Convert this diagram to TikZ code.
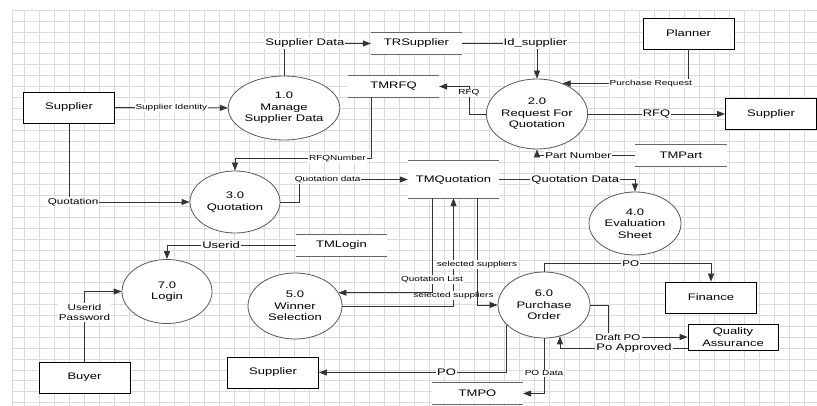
\documentclass[tikz,border=0pt]{standalone}
\usepackage{fontspec}
\setmainfont{Liberation Sans}[FakeStretch=1.37]
\usetikzlibrary{arrows.meta, shapes.geometric, positioning}

\newcommand{\fsbig}{\fontsize{9.5}{11.5}\selectfont}
\newcommand{\fsmid}{\fontsize{8.5}{10}\selectfont}
\newcommand{\fssmall}{\fontsize{7.3}{8.5}\selectfont}

\tikzset{
  entity/.style={draw, rectangle, fill=white, line width=0.8pt, minimum width=91pt, minimum height=31pt, inner sep=0pt, font=\fsbig},
  process/.style={draw=black!65, ellipse, fill=white, line width=0.8pt, inner sep=0pt, align=center, font=\fsbig},
  store/.style={fill=white, minimum width=91pt, minimum height=21pt, inner sep=0pt, font=\fsbig},
  storeline/.style={draw=black!60, line width=0.8pt},
  flow/.style={draw=black!80, line width=0.8pt, -{Triangle[length=8pt,width=6pt]}},
  lbl/.style={fill=white, inner sep=1pt, font=\fsbig},
  lblm/.style={lbl, font=\fsmid},
  lbls/.style={lbl, font=\fssmall},
  gridline/.style={draw=black!14, line width=0.4pt}
}

\begin{document}
\begin{tikzpicture}[x=1pt, y=-1pt]
    \useasboundingbox (0,0) rectangle (817,406);
    % background grid
    \foreach \x in {11.7,24.3,39.3,...,817}
      \draw[gridline] (\x,10) -- (\x,406);
    \foreach \k in {0,...,36}
      \draw[gridline] (11.7,{10+10.9*\k}) -- (817,{10+10.9*\k});

    % external entities
    \node[entity] (SupA) at (69,107.5) {Supplier};
    \node[entity] (Plan) at (688.5,33.5) {Planner};
    \node[entity] (SupB) at (771,114) {Supplier};
    \node[entity] (Fin) at (711,297.5) {Finance};
    \node[entity, minimum width=90pt, minimum height=26pt, align=center] (QA) at (733,337) {Quality\\Assurance};
    \node[entity] (SupC) at (273,372.5) {Supplier};
    \node[entity] (Buy) at (84.5,377.5) {Buyer};

    % processes
    \node[process, minimum width=98pt, minimum height=64pt] (P1) at (284,108) {1.0\\Manage\\Supplier Data};
    \node[process, minimum width=94pt, minimum height=70pt] (P2) at (537,114) {2.0\\Request For\\Quotation};
    \node[process, minimum width=90pt, minimum height=62pt] (P3) at (235,202) {3.0\\Quotation};
    \node[process, minimum width=92pt, minimum height=63pt] (P4) at (635,223.5) {4.0\\Evaluation\\Sheet};
    \node[process, minimum width=94pt, minimum height=66pt] (P5) at (295,306) {5.0\\Winner\\Selection};
    \node[process, minimum width=92pt, minimum height=66pt] (P6) at (544,305) {6.0\\Purchase\\Order};
    \node[process, minimum width=90pt, minimum height=64pt] (P7) at (167,291.5) {7.0\\Login};

    % data stores
    \node[store] (TRS) at (416.5,43.5) {TRSupplier};
    \node[store] (TMR) at (393.5,86.5) {TMRFQ};
    \node[store, minimum height=37pt] (TMQ) at (453.5,179.5) {TMQuotation};
    \node[store] (TMP) at (681,155.5) {TMPart};
    \node[store] (TML) at (341.5,245.5) {TMLogin};
    \node[store] (TMPO) at (477.5,393.5) {TMPO};
    \foreach \s in {TRS,TMR,TMQ,TMP,TML,TMPO}
      \draw[storeline] (\s.north west) -- (\s.north east) (\s.south west) -- (\s.south east);

    % data flows
    \draw[flow] (SupA) -- node[lbls]{Supplier Identity} (P1);
    \draw[flow] (P1.north) |- node[lbl, pos=0.62]{Supplier Data} (TRS.west);
    \draw[flow] (TRS.east) -| node[lbl, pos=0.49]{Id\_supplier} (P2.north);
    \draw[flow] (Plan.south) |- node[lbls, pos=0.65]{Purchase Request} (P2.50);
    \draw[flow] (P2) -- node[lbl]{RFQ} (SupB);
    \draw[flow] (P2.west) -- ++(-17,0) |- node[lbls, pos=0.38]{RFQ} (TMR.east);
    \draw[flow] ([xshift=-22pt]TMR.south) -- ++(0,61) -| node[lbls, pos=0.125]{RFQNumber} (P3.north);
    \draw[flow] (SupA.south) |- node[lblm, pos=0.517]{Quotation} (P3.west);
    \draw[flow] (P3.east) -- ++(19,0) |- node[lbls, pos=0.63]{Quotation data} (TMQ.west);
    \draw[flow] (TMQ.east) -| node[lbl, pos=0.28]{Quotation Data} (P4.north);
    \draw[flow] (TMP.west) -| node[lblm, pos=0.29]{Part Number} (P2.south);
    \draw[flow] (TML.west) -| node[lbl, pos=0.29]{Userid} (P7.north);
    \draw[flow] (Buy.north) |- node[lblm, pos=0.35, align=center]{Userid\\Password} (P7.west);
    \draw[flow] (P5.east) -| node[lbls, pos=0.55]{selected suppliers} (TMQ.south);
    \draw[flow] ([xshift=-21.5pt]TMQ.south) |- node[lbls, pos=0.43]{Quotation List} (P5.17);
    \draw[flow] ([xshift=23.5pt]TMQ.south) |- node[lbls, pos=0.31]{selected suppliers} (P6.west);
    \draw[flow] (P6.north) -- ++(0,-8) -| node[lblm, pos=0.26]{PO} (Fin.north);
    \draw[flow] (P6.east) -- ++(18,0) |- node[lblm, pos=0.56]{Draft PO} (QA.west);
    \draw[flow] ([yshift=-11pt]QA.west) -| node[lbl, pos=0.21]{Po Approved} (P6.-63);
    \draw[flow] (P6.208) |- node[lbl, pos=0.66]{PO} (SupC.east);
    \draw[flow] (P6.south) |- node[lbls, pos=0.315]{PO Data} (TMPO.east);
\end{tikzpicture}
\end{document}
